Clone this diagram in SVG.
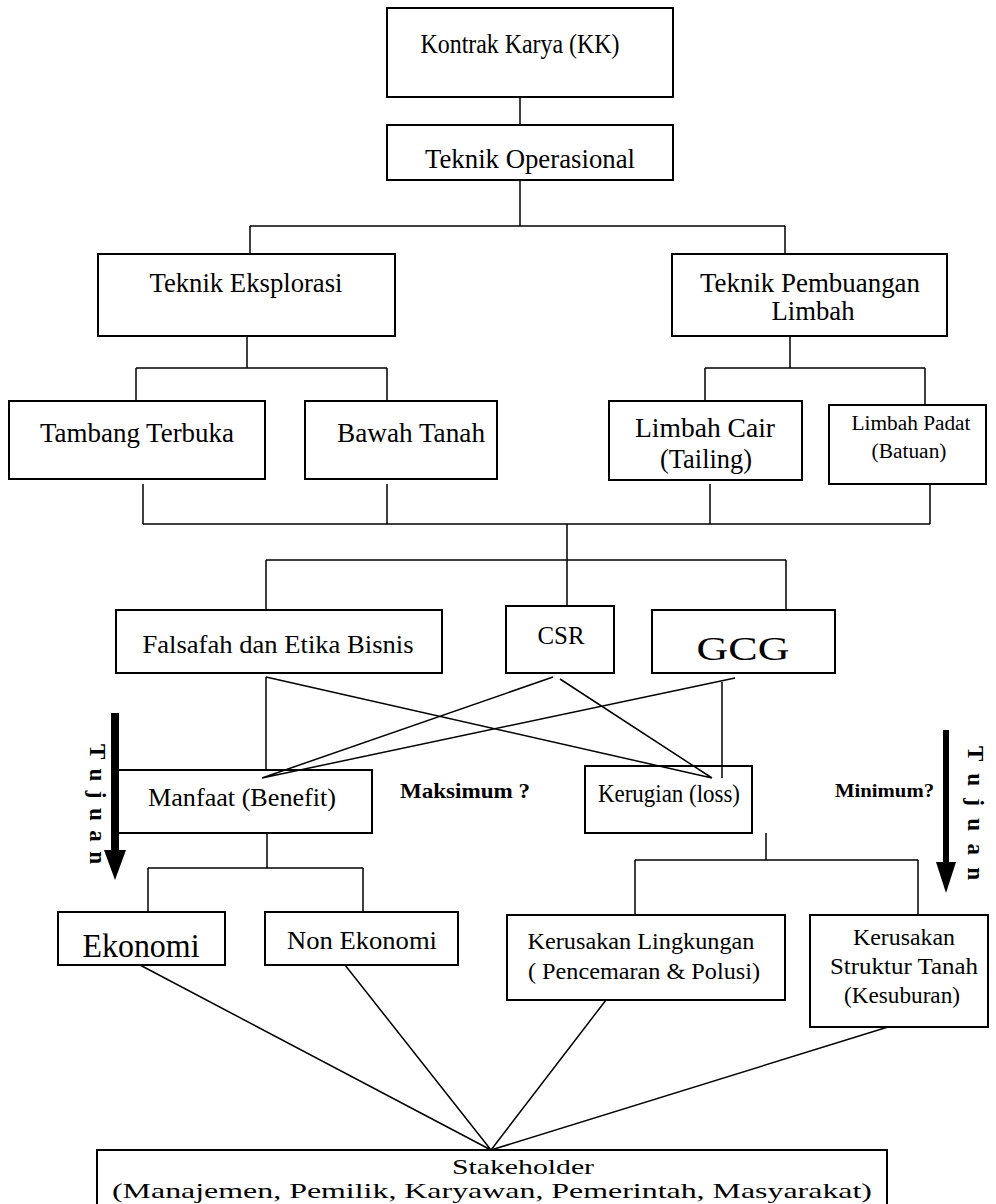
<svg xmlns="http://www.w3.org/2000/svg" width="996" height="1204" viewBox="0 0 996 1204">
<style>
.box{fill:#fff;stroke:#000;stroke-width:2}
.t{font-family:"Liberation Serif","Times New Roman",serif;fill:#000;text-anchor:middle}
.b{font-family:"Liberation Serif","Times New Roman",serif;fill:#000;font-weight:bold}
.c{stroke:#000;stroke-width:1.5;fill:none}
</style>
<rect width="996" height="1204" fill="#fff"/>
<g id="connectors">
<path class="c" d="M520 97V125M520 180V226M250 226H785M250 226V254M785 226V254"/>
<path class="c" d="M247 336V368M136 368H387M136 368V401M387 368V401"/>
<path class="c" d="M790 336V368M705 368H925M705 368V401M925 368V405"/>
<path class="c" d="M143 484V524M387 484V524M710 484V524M930 484V524M143 524H930"/>
<path class="c" d="M567 524V606M266 560H786M266 560V610M786 560V610"/>
<path class="c" d="M266 677V770M266 677L712 778M553 677L262 778M560 679L712 778M735 678L262 778M722 682V778"/>
<path class="c" d="M267 833V868M148 868H363M148 868V912M363 868V912"/>
<path class="c" d="M766 833V860M635 860H918M635 860V915M918 860V915"/>
<path class="c" d="M140 965L491 1150M345 965L491 1150M606 1000L491 1150M888 1027L491 1150"/>
</g>
<g id="arrow-left">
<line x1="115" y1="713" x2="115" y2="855" stroke="#000" stroke-width="8"/>
<polygon points="104,850 126,850 115,880"/>
</g>
<g id="arrow-right">
<line x1="946" y1="730" x2="946" y2="868" stroke="#000" stroke-width="6"/>
<polygon points="936,862 956,862 946,893"/>
</g>
<g id="tujuan-left"><text class="b" font-size="23" transform="translate(90,744) rotate(90)" textLength="120">T u j u a n</text></g>
<g id="tujuan-right"><text class="b" font-size="23" transform="translate(968,746) rotate(90)" textLength="134">T u j u a n</text></g>
<g id="kk"><rect class="box" x="387" y="8" width="286" height="89"/><text class="t" x="520" y="53" font-size="27" textLength="199" lengthAdjust="spacingAndGlyphs">Kontrak Karya (KK)</text></g>
<g id="operasional"><rect class="box" x="387" y="125" width="286" height="55"/><text class="t" x="530" y="168" font-size="27" textLength="210" lengthAdjust="spacingAndGlyphs">Teknik Operasional</text></g>
<g id="eksplorasi"><rect class="box" x="98" y="254" width="297" height="82"/><text class="t" x="246" y="292" font-size="27" textLength="193" lengthAdjust="spacingAndGlyphs">Teknik Eksplorasi</text></g>
<g id="pembuangan"><rect class="box" x="672" y="254" width="275" height="82"/><text class="t" x="810" y="292" font-size="27" textLength="220" lengthAdjust="spacingAndGlyphs">Teknik Pembuangan</text><text class="t" x="813" y="320" font-size="27" textLength="83" lengthAdjust="spacingAndGlyphs">Limbah</text></g>
<g id="tambang"><rect class="box" x="9" y="401" width="256" height="78"/><text class="t" x="137" y="442" font-size="27" textLength="194" lengthAdjust="spacingAndGlyphs">Tambang Terbuka</text></g>
<g id="bawah"><rect class="box" x="305" y="401" width="192" height="78"/><text class="t" x="411" y="442" font-size="27" textLength="148" lengthAdjust="spacingAndGlyphs">Bawah Tanah</text></g>
<g id="cair"><rect class="box" x="609" y="401" width="193" height="79"/><text class="t" x="705" y="437" font-size="27" textLength="140" lengthAdjust="spacingAndGlyphs">Limbah  Cair</text><text class="t" x="706" y="468" font-size="27" textLength="92" lengthAdjust="spacingAndGlyphs">(Tailing)</text></g>
<g id="padat"><rect class="box" x="829" y="405" width="157" height="79"/><text class="t" x="911" y="430" font-size="20" textLength="119" lengthAdjust="spacingAndGlyphs">Limbah Padat</text><text class="t" x="909" y="458" font-size="20" textLength="75" lengthAdjust="spacingAndGlyphs">(Batuan)</text></g>
<g id="falsafah"><rect class="box" x="116" y="610" width="326" height="63"/><text class="t" x="278" y="653" font-size="26" textLength="271" lengthAdjust="spacingAndGlyphs">Falsafah dan Etika Bisnis</text></g>
<g id="csr"><rect class="box" x="506" y="606" width="108" height="67"/><text class="t" x="561" y="644" font-size="25" textLength="47" lengthAdjust="spacingAndGlyphs">CSR</text></g>
<g id="gcg"><rect class="box" x="652" y="610" width="183" height="63"/><text class="t" x="743" y="660" font-size="34" textLength="93" lengthAdjust="spacingAndGlyphs">GCG</text></g>
<g id="manfaat"><rect x="117" y="770" width="255" height="63" fill="none" stroke="#000" stroke-width="2"/><text class="t" x="242" y="806" font-size="25" textLength="188" lengthAdjust="spacingAndGlyphs">Manfaat (Benefit)</text></g>
<g id="kerugian"><rect x="585" y="766" width="167" height="67" fill="none" stroke="#000" stroke-width="2"/><text class="t" x="669" y="802" font-size="26" textLength="142" lengthAdjust="spacingAndGlyphs">Kerugian (loss)</text></g>
<g id="maksimum"><text class="b" x="400" y="798" font-size="22" textLength="130" lengthAdjust="spacingAndGlyphs">Maksimum ?</text></g>
<g id="minimum"><text class="b" x="835" y="797" font-size="19" textLength="99" lengthAdjust="spacingAndGlyphs">Minimum?</text></g>
<g id="ekonomi"><rect class="box" x="58" y="912" width="167" height="53"/><text class="t" x="141" y="957" font-size="33" textLength="117" lengthAdjust="spacingAndGlyphs">Ekonomi</text></g>
<g id="nonekonomi"><rect class="box" x="265" y="912" width="193" height="53"/><text class="t" x="362" y="949" font-size="25" textLength="150" lengthAdjust="spacingAndGlyphs">Non Ekonomi</text></g>
<g id="lingkungan"><rect class="box" x="507" y="915" width="278" height="85"/><text class="t" x="641" y="949" font-size="23" textLength="227" lengthAdjust="spacingAndGlyphs">Kerusakan Lingkungan</text><text class="t" x="644" y="979" font-size="23" textLength="232" lengthAdjust="spacingAndGlyphs">( Pencemaran &amp; Polusi)</text></g>
<g id="struktur"><rect class="box" x="810" y="915" width="178" height="112"/><text class="t" x="904" y="945" font-size="23" textLength="102" lengthAdjust="spacingAndGlyphs">Kerusakan</text><text class="t" x="904" y="974" font-size="23" textLength="148" lengthAdjust="spacingAndGlyphs">Struktur Tanah</text><text class="t" x="902" y="1003" font-size="23" textLength="116" lengthAdjust="spacingAndGlyphs">(Kesuburan)</text></g>
<g id="stakeholder"><rect class="box" x="97" y="1150" width="790" height="64"/><text class="t" x="523" y="1174" font-size="21" textLength="142" lengthAdjust="spacingAndGlyphs">Stakeholder</text><text class="t" x="492" y="1198" font-size="21" textLength="760" lengthAdjust="spacingAndGlyphs">(Manajemen, Pemilik, Karyawan, Pemerintah, Masyarakat)</text></g>
</svg>
